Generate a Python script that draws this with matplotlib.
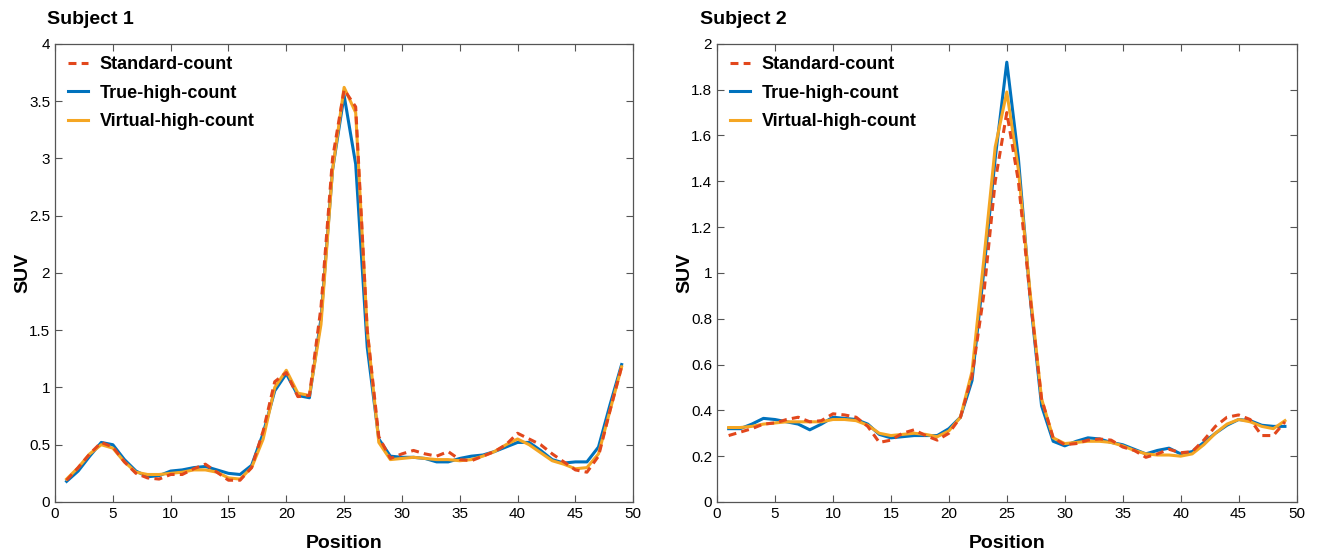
import matplotlib
matplotlib.use("Agg")
import matplotlib.pyplot as plt
import numpy as np

plt.rcParams['font.family'] = ['Liberation Sans', 'DejaVu Sans']

positions = list(range(1, 50))

s1_standard = [0.19, 0.30, 0.42, 0.52, 0.48, 0.35, 0.25, 0.21, 0.20, 0.24,
               0.24, 0.29, 0.33, 0.26, 0.19, 0.19, 0.30, 0.62, 1.05, 1.13,
               0.92, 0.93, 1.70, 3.00, 3.60, 3.45, 1.50, 0.57, 0.38, 0.42,
               0.45, 0.42, 0.40, 0.44, 0.37, 0.36, 0.40, 0.44, 0.50, 0.60,
               0.55, 0.50, 0.42, 0.35, 0.28, 0.26, 0.40, 0.80, 1.18]
s1_true = [0.18, 0.27, 0.40, 0.52, 0.50, 0.37, 0.27, 0.22, 0.23, 0.27,
           0.28, 0.30, 0.31, 0.28, 0.25, 0.24, 0.32, 0.60, 0.97, 1.12,
           0.93, 0.91, 1.60, 2.90, 3.55, 2.95, 1.35, 0.55, 0.40, 0.39,
           0.39, 0.38, 0.35, 0.35, 0.38, 0.40, 0.41, 0.44, 0.48, 0.52,
           0.52, 0.45, 0.37, 0.34, 0.35, 0.35, 0.48, 0.85, 1.20]
s1_virtual = [0.20, 0.30, 0.42, 0.50, 0.47, 0.35, 0.26, 0.24, 0.24, 0.25,
              0.26, 0.28, 0.28, 0.26, 0.21, 0.20, 0.30, 0.55, 1.00, 1.15,
              0.95, 0.93, 1.55, 2.90, 3.62, 3.40, 1.50, 0.52, 0.37, 0.38,
              0.39, 0.38, 0.37, 0.37, 0.36, 0.37, 0.40, 0.44, 0.50, 0.55,
              0.50, 0.43, 0.36, 0.33, 0.29, 0.30, 0.42, 0.80, 1.18]

s2_standard = [0.29, 0.305, 0.32, 0.34, 0.345, 0.36, 0.37, 0.35, 0.355, 0.385,
               0.38, 0.37, 0.33, 0.26, 0.27, 0.30, 0.315, 0.29, 0.27, 0.30,
               0.37, 0.55, 0.90, 1.40, 1.70, 1.40, 0.90, 0.45, 0.28, 0.25,
               0.255, 0.27, 0.275, 0.27, 0.24, 0.225, 0.195, 0.21, 0.23, 0.215,
               0.22, 0.27, 0.33, 0.37, 0.38, 0.36, 0.29, 0.29, 0.35]
s2_true = [0.32, 0.32, 0.34, 0.365, 0.36, 0.35, 0.34, 0.315, 0.34, 0.37,
           0.365, 0.36, 0.34, 0.295, 0.28, 0.285, 0.29, 0.29, 0.29, 0.32,
           0.37, 0.53, 1.00, 1.50, 1.92, 1.50, 0.90, 0.42, 0.265, 0.245,
           0.265, 0.28, 0.275, 0.26, 0.25, 0.23, 0.21, 0.225, 0.235, 0.21,
           0.22, 0.26, 0.30, 0.335, 0.36, 0.355, 0.335, 0.33, 0.33]
s2_virtual = [0.325, 0.325, 0.33, 0.34, 0.345, 0.35, 0.35, 0.35, 0.35, 0.36,
              0.36, 0.355, 0.335, 0.30, 0.29, 0.295, 0.30, 0.295, 0.285, 0.31,
              0.37, 0.57, 1.05, 1.55, 1.79, 1.45, 0.92, 0.45, 0.28, 0.255,
              0.26, 0.265, 0.265, 0.26, 0.245, 0.225, 0.21, 0.205, 0.205, 0.20,
              0.21, 0.25, 0.30, 0.34, 0.36, 0.35, 0.33, 0.32, 0.355]

labels = ["Standard-count", "True-high-count", "Virtual-high-count"]
colors = ["#E2471C", "#0072BD", "#F5A623"]

fig = plt.figure(figsize=(13.23, 5.58), dpi=100)
ax1 = fig.add_axes([0.0416, 0.1004, 0.437, 0.821])
ax2 = fig.add_axes([0.542, 0.1004, 0.438, 0.821])

def draw(ax, std, tru, vir, ylim, yticks, yticklabels, title, title_x):
    ax.plot(positions, std, color=colors[0], lw=2.2, ls=(0, (2.6, 1.7)), label=labels[0], zorder=3)
    ax.plot(positions, tru, color=colors[1], lw=2.2, label=labels[1], zorder=2)
    ax.plot(positions, vir, color=colors[2], lw=2.2, label=labels[2], zorder=2.5)
    ax.set_xlim(0, 50)
    ax.set_ylim(*ylim)
    ax.set_xticks(range(0, 51, 5))
    ax.set_yticks(yticks)
    ax.set_yticklabels(yticklabels)
    ax.tick_params(direction='in', top=True, right=True, labelsize=11,
                   length=5, color='#555555', width=0.8)
    for sp in ax.spines.values():
        sp.set_color('#555555')
        sp.set_linewidth(0.9)
    ax.set_xlabel("Position", fontsize=14, fontweight='bold', labelpad=10)
    ax.set_ylabel("SUV", fontsize=14, fontweight='bold', labelpad=-1.5)
    ax.text(title_x, 1.035, title, transform=ax.transAxes, fontsize=14,
            fontweight='bold', ha='left', va='bottom')
    leg = ax.legend(loc='upper left', frameon=False,
                    prop={'weight': 'bold', 'size': 13}, handlelength=1.1,
                    handletextpad=0.65, labelspacing=0.62,
                    bbox_to_anchor=(-0.006, 1.008))
    return leg

draw(ax1, s1_standard, s1_true, s1_virtual, (0, 4),
     [0, 0.5, 1, 1.5, 2, 2.5, 3, 3.5, 4],
     ["0", "0.5", "1", "1.5", "2", "2.5", "3", "3.5", "4"], "Subject 1", -0.014)
draw(ax2, s2_standard, s2_true, s2_virtual, (0, 2),
     [0, 0.2, 0.4, 0.6, 0.8, 1, 1.2, 1.4, 1.6, 1.8, 2],
     ["0", "0.2", "0.4", "0.6", "0.8", "1", "1.2", "1.4", "1.6", "1.8", "2"], "Subject 2", -0.029)

fig.savefig("out.png", dpi=100)
